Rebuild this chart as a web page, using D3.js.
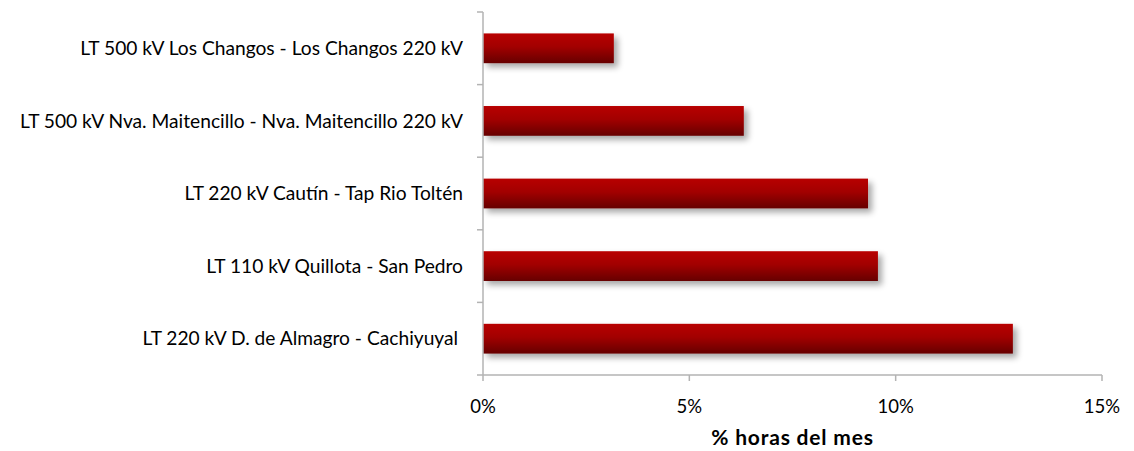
<!DOCTYPE html>
<html><head><meta charset="utf-8">
<script src="https://cdn.jsdelivr.net/npm/d3@7"></script>
<style>body{margin:0;background:#fff}svg{display:block}text{white-space:pre}</style>
</head><body>
<script>
const categories = [
  "LT 500 kV Los Changos - Los Changos 220 kV",
  "LT 500 kV Nva. Maitencillo - Nva. Maitencillo 220 kV",
  "LT 220 kV Cautín - Tap Rio Toltén",
  "LT 110 kV Quillota - San Pedro",
  "LT 220 kV D. de Almagro - Cachiyuyal "
];
const values = [0.0317, 0.0632, 0.0933, 0.0957, 0.1284];
const xTicks = [0, 0.05, 0.10, 0.15];
const xTitle = "% horas del mes";

const W = 1134, H = 451;
const m = {left: 483, right: 32, top: 12, bottom: 76};
const svg = d3.select("body").append("svg").attr("width", W).attr("height", H);
const defs = svg.append("defs");
const grad = defs.append("linearGradient").attr("id","bg").attr("x1",0).attr("y1",0).attr("x2",0).attr("y2",1);
grad.append("stop").attr("offset","0%").attr("stop-color","#b80000");
grad.append("stop").attr("offset","45%").attr("stop-color","#a20000");
grad.append("stop").attr("offset","100%").attr("stop-color","#660000");
const f = defs.append("filter").attr("id","sh").attr("x","-10%").attr("y","-50%").attr("width","130%").attr("height","220%");
f.append("feGaussianBlur").attr("in","SourceAlpha").attr("stdDeviation",3).attr("result","b");
f.append("feOffset").attr("in","b").attr("dx",4).attr("dy",4).attr("result","o");
f.append("feComponentTransfer").attr("in","o").attr("result","o2")
  .append("feFuncA").attr("type","linear").attr("slope",0.35);
const mg = f.append("feMerge");
mg.append("feMergeNode").attr("in","o2");
mg.append("feMergeNode").attr("in","SourceGraphic");

const x = d3.scaleLinear().domain([0, 0.15]).range([m.left, W - m.right]);
const y = d3.scaleBand().domain(categories).range([m.top, H - m.bottom]).paddingInner(0.59).paddingOuter(0.295);
const yb = d3.scaleBand().domain(categories).range([m.top, H - m.bottom]);

svg.append("g").selectAll("rect").data(categories).join("rect")
  .attr("x", x(0)).attr("y", d => y(d))
  .attr("width", (d,i) => x(values[i]) - x(0)).attr("height", y.bandwidth())
  .attr("fill","url(#bg)").attr("filter","url(#sh)");

const axCol = "#b3b3b3";
const ya = svg.append("g");
ya.append("line").attr("x1",m.left).attr("x2",m.left).attr("y1",m.top).attr("y2",H-m.bottom).attr("stroke",axCol).attr("stroke-width",1.5);
ya.selectAll("line.t").data(categories.map(c=>yb(c)).concat([H-m.bottom])).join("line").attr("class","t")
  .attr("x1",m.left-6).attr("x2",m.left).attr("y1",d=>d).attr("y2",d=>d).attr("stroke",axCol).attr("stroke-width",1.5);
ya.selectAll("text").data(categories).join("text")
  .attr("x", 463).attr("y", d => yb(d) + yb.bandwidth()/2).attr("dy","0.35em")
  .attr("text-anchor","end").attr("font-family","Lato, 'Open Sans', sans-serif").attr("font-size",19.2).attr("fill","#000")
  .text(d=>d);
const xa = svg.append("g");
xa.append("line").attr("x1",m.left).attr("x2",W-m.right).attr("y1",H-m.bottom).attr("y2",H-m.bottom).attr("stroke",axCol).attr("stroke-width",1.5);
xa.selectAll("line.t").data(xTicks).join("line").attr("class","t")
  .attr("x1",d=>x(d)).attr("x2",d=>x(d)).attr("y1",H-m.bottom).attr("y2",H-m.bottom+6).attr("stroke",axCol).attr("stroke-width",1.5);
xa.selectAll("text").data(xTicks).join("text")
  .attr("x",d=>x(d)).attr("y",H-m.bottom+38).attr("text-anchor","middle")
  .attr("font-family","Lato, 'Open Sans', sans-serif").attr("font-size",18.5).attr("fill","#000")
  .text(d3.format(".0%"));
svg.append("text").attr("x",(m.left + W - m.right)/2).attr("y",H-6).attr("text-anchor","middle")
  .attr("font-family","Lato, 'Open Sans', sans-serif").attr("font-size",21).attr("letter-spacing",0.8).attr("font-weight","bold").text(xTitle);
</script>
</body></html>
